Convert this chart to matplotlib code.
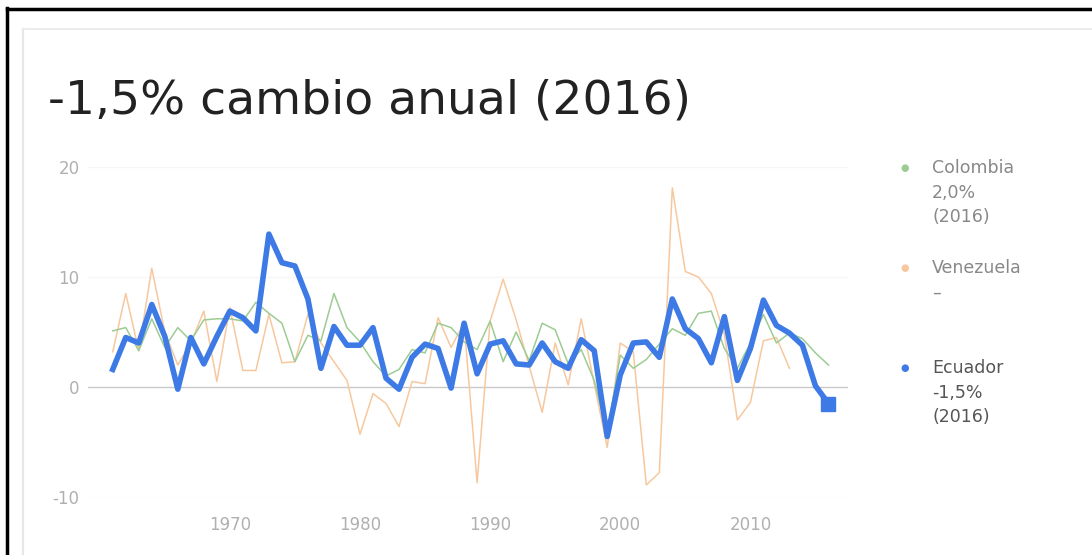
import numpy as np
import matplotlib
matplotlib.use("Agg")
import matplotlib.pyplot as plt
from matplotlib.lines import Line2D

plt.rcParams['font.family'] = ['DejaVu Sans']

years = list(range(1961, 2017))

# annual GDP change (%)
ecuador = [1.6, 4.5, 4.0, 7.5, 4.6, -0.2, 4.5, 2.1, 4.6, 6.9,
           6.3, 5.1, 13.9, 11.3, 11.0, 8.0, 1.7, 5.5, 3.8, 3.8,
           5.4, 0.8, -0.2, 2.7, 3.9, 3.5, -0.1, 5.8, 1.2, 3.9,
           4.2, 2.1, 2.0, 4.0, 2.3, 1.7, 4.3, 3.3, -4.5, 1.1,
           4.0, 4.1, 2.7, 8.0, 5.3, 4.4, 2.2, 6.4, 0.6, 3.5,
           7.9, 5.6, 4.9, 3.8, 0.1, -1.5]
colombia = [5.1, 5.4, 3.3, 6.2, 3.6, 5.4, 4.2, 6.1, 6.2, 6.2,
            6.0, 7.7, 6.7, 5.8, 2.3, 4.7, 4.2, 8.5, 5.4, 4.1,
            2.3, 1.0, 1.6, 3.4, 3.1, 5.8, 5.4, 4.1, 3.4, 6.0,
            2.3, 5.0, 2.4, 5.8, 5.2, 2.1, 3.4, 0.6, -4.2, 2.9,
            1.7, 2.5, 3.9, 5.3, 4.7, 6.7, 6.9, 3.5, 1.7, 4.0,
            6.6, 4.0, 4.9, 4.4, 3.1, 2.0]
venezuela = [3.2, 8.5, 3.3, 10.8, 5.0, 2.0, 4.0, 6.9, 0.5, 7.2,
             1.5, 1.5, 6.6, 2.2, 2.3, 6.6, 4.0, 2.3, 0.6, -4.3,
             -0.6, -1.5, -3.6, 0.5, 0.3, 6.3, 3.6, 5.8, -8.7, 6.0,
             9.8, 6.1, 1.9, -2.3, 4.0, 0.2, 6.2, 0.3, -5.5, 4.0,
             3.2, -8.9, -7.8, 18.1, 10.5, 10.0, 8.5, 4.8, -3.0, -1.4,
             4.2, 4.5, 1.7, np.nan, np.nan, np.nan]

yticks = [-10, 0, 10, 20]
ytick_labels = ['-10', '0', '10', '20']
xticks = [1970, 1980, 1990, 2000, 2010]

c_ecu = '#3d7ae6'
c_col = '#9ccc93'
c_ven = '#f7c89e'

fig = plt.figure(figsize=(10.92, 5.55), dpi=100)

# frame of the screenshot
fig.add_artist(Line2D([7 / 1092, 7 / 1092], [0, 1 - 8 / 555], color='black', lw=2.5))
fig.add_artist(Line2D([7 / 1092, 1], [1 - 9 / 555, 1 - 9 / 555], color='black', lw=2.5))
fig.add_artist(Line2D([23 / 1092, 23 / 1092], [0, 1 - 29 / 555], color='#e6e6e6', lw=1.5))
fig.add_artist(Line2D([23 / 1092, 1], [1 - 29 / 555, 1 - 29 / 555], color='#ececec', lw=1.5))

fig.text(48 / 1092, 1 - 101 / 555, '-1,5% cambio anual (2016)', fontsize=34,
         color='#222222', va='center', ha='left')

ax = fig.add_axes([88 / 1092, 1 - 497 / 555, 760 / 1092, 330 / 555])
ax.plot(years, venezuela, color=c_ven, lw=1.1, zorder=2)
ax.plot(years, colombia, color=c_col, lw=1.1, zorder=3)
ax.plot(years, ecuador, color=c_ecu, lw=4, zorder=4, solid_joinstyle='round')
ax.plot(years[-1], ecuador[-1], 's', color=c_ecu, ms=9.5, zorder=5, clip_on=False)

ax.axhline(0, color='#c8c8c8', lw=1, zorder=1)
for v in [-10, 10, 20]:
    ax.axhline(v, color='#f6f6f6', lw=1, zorder=0)

ax.set_xlim(1959.1, 2017.5)
ax.set_ylim(-10, 20)
ax.set_yticks(yticks)
ax.set_yticklabels(ytick_labels)
ax.set_xticks(xticks)
for s in ax.spines.values():
    s.set_visible(False)
ax.tick_params(axis='both', length=0, labelsize=12, labelcolor='#b0b0b0')
ax.tick_params(axis='y', pad=6)
ax.tick_params(axis='x', pad=14)

# legend on the right
legend_items = [
    (c_col, '#888888', ['Colombia', '2,0%', '(2016)'], 168),
    (c_ven, '#888888', ['Venezuela', '–'], 268),
    (c_ecu, '#555555', ['Ecuador', '-1,5%', '(2016)'], 368),
]
for dot_col, txt_col, lines, y0 in legend_items:
    fig.text(905 / 1092, 1 - y0 / 555, '●', color=dot_col, fontsize=7,
             va='center', ha='center')
    for i, t in enumerate(lines):
        fig.text(932 / 1092, 1 - (y0 + i * 24.5) / 555, t, color=txt_col,
                 fontsize=12.5, va='center', ha='left')

fig.savefig('out.png', dpi=100, facecolor='white')
